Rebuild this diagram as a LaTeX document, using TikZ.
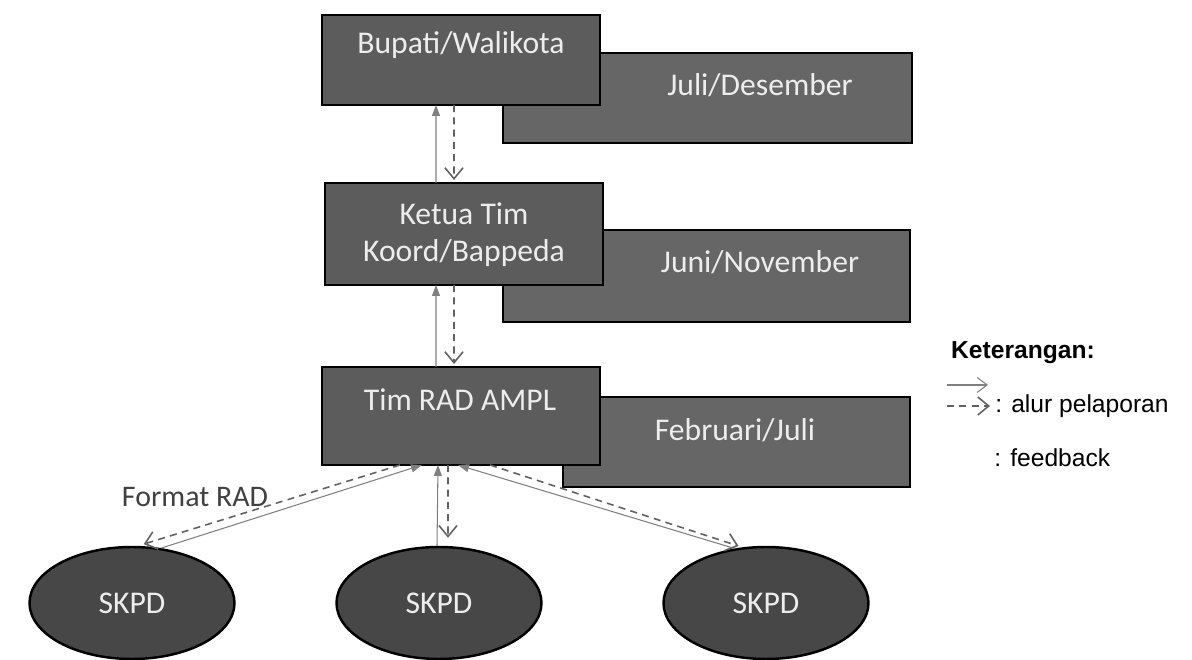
\documentclass[tikz,border=0pt]{standalone}
\usepackage{fontspec}
\setmainfont{Carlito}
\newfontfamily\legendfont{Liberation Sans}
\usepackage{tikz}
\usetikzlibrary{arrows.meta,shapes.geometric}
\tikzset{
    stagenode/.style = {
        rectangle,
        draw=black,
        line width=1.4pt,
        fill=black!64,
        minimum width=5.56cm,
        inner sep=0pt,
        outer sep=0mm
    },
    periodnode/.style = {
        stagenode,
        fill=black!60
    },
    stagetext/.style = {
        align=center,
        text=white!93!black,
        font=\fontsize{18}{21}\selectfont,
        inner sep=0pt
    },
    unitnode/.style = {
        ellipse,
        draw=black,
        line width=1.4pt,
        fill=black!72,
        minimum width=4.1cm,
        minimum height=2.24cm,
        inner sep=0pt,
        text=white!93!black,
        font=\fontsize{18}{21}\selectfont
    },
    feedline/.style = {
        draw=black!50,
        line width=0.6pt,
        -{Triangle[length=2.2mm,width=1.6mm]}
    },
    reportline/.style = {
        draw=black!62,
        line width=0.9pt,
        dash pattern=on 4pt off 3pt,
        -{Straight Barb[length=2.2mm,width=3.6mm]}
    }
}

\begin{document}
\begin{tikzpicture}
    \useasboundingbox (0,0) rectangle (23.84,13.2);

    % periode (di belakang)
    \node [periodnode, minimum width=8.18cm, minimum height=1.8cm] (jd) at (14.15,11.24) {};
    \node [periodnode, minimum width=8.14cm, minimum height=1.84cm] (jn) at (14.13,7.68) {};
    \node [periodnode, minimum width=6.94cm, minimum height=1.8cm] (fj) at (14.73,4.36) {};
    \node [stagetext] (jdtext) at (15.2,11.5) {Juli/Desember};
    \node [stagetext] (jntext) at (15.2,7.96) {Juni/November};
    \node [stagetext] (fjtext) at (14.7,4.6) {Februari/Juli};

    % tahapan
    \node [stagenode, minimum height=1.8cm] (bupati) at (9.22,12.0) {};
    \node [stagenode, minimum height=2.04cm] (ketua) at (9.28,8.52) {};
    \node [stagenode, minimum height=1.96cm] (tim) at (9.22,4.88) {};
    \node [stagetext] (bupatitext) at (9.22,12.3) {Bupati/Walikota};
    \node [stagetext] (ketuatext) at (9.28,8.5) {Ketua Tim\\Koord/Bappeda};
    \node [stagetext] (timtext) at (9.2,5.2) {Tim RAD AMPL};

    \node [unitnode] (skpdA) at (2.64,1.14) {SKPD};
    \node [unitnode] (skpdB) at (8.78,1.14) {SKPD};
    \node [unitnode] (skpdC) at (15.32,1.14) {SKPD};

    \node [text=black!75, font=\fontsize{17}{20}\selectfont] (format) at (3.9,3.26) {Format RAD};

    % alur
    \draw [feedline] ([xshift=-5.6mm]ketua.north) -- ([xshift=-5mm]bupati.south);
    \draw [reportline, shorten >=0.6mm] ([xshift=-1.4mm]bupati.south) -- ([xshift=-2mm]ketua.north);
    \draw [feedline] ([xshift=-5mm]tim.north) -- ([xshift=-5.6mm]ketua.south);
    \draw [reportline, shorten >=0.6mm] ([xshift=-2mm]ketua.south) -- ([xshift=-1.4mm]tim.north);

    \draw [feedline] (skpdA.62) -- ([xshift=-7.8mm]tim.south);
    \draw [reportline, shorten >=1.2mm] ([xshift=-12.2mm]tim.south) -- (skpdA.84);
    \draw [feedline] ([xshift=-0.4mm]skpdB.north) -- ([xshift=-4.6mm]tim.south);
    \draw [reportline, shorten >=1.6mm] ([xshift=-2.6mm]tim.south) -- ([xshift=1.8mm]skpdB.north);
    \draw [feedline] (skpdC.120) -- ([xshift=-0.6mm]tim.south);
    \draw [reportline, shorten >=0.8mm] ([xshift=5.8mm]tim.south) -- (skpdC.113);

    % keterangan
    \node [anchor=west, font=\legendfont\bfseries\fontsize{14}{16}\selectfont] (ket) at (18.9,6.14) {Keterangan:};
    \coordinate (lgA) at (18.94,5.5);
    \coordinate (lgB) at (19.76,5.5);
    \coordinate (lgC) at (18.94,5.08);
    \coordinate (lgD) at (19.8,5.08);
    \draw [draw=black!50, line width=0.6pt, -{Straight Barb[length=2mm,width=3mm]}] (lgA) -- (lgB);
    \draw [reportline] (lgC) -- (lgD);
    \node [anchor=west, inner sep=0pt, font=\legendfont\fontsize{14}{16}\selectfont] (alur) at (19.9,5.08) {: alur pelaporan};
    \node [anchor=west, inner sep=0pt, font=\legendfont\fontsize{14}{16}\selectfont] (feed) at (19.88,4.04) {: feedback};
\end{tikzpicture}
\end{document}
